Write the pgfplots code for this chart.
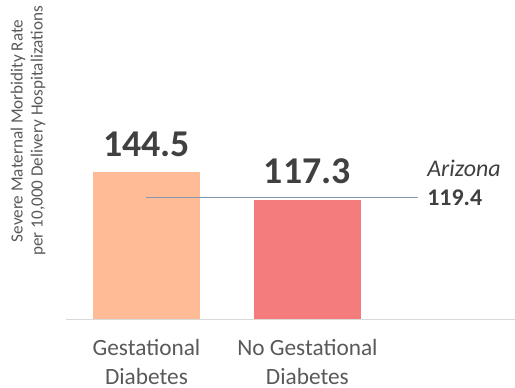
\documentclass[border=0pt]{standalone}
\usepackage{fontspec}
\setmainfont{Carlito}
\usepackage{pgfplots}
\pgfplotsset{compat=1.18}
\definecolor{peach}{HTML}{FFBB96}
\definecolor{salmon}{HTML}{F47C7C}
\definecolor{azline}{HTML}{8497B0}
\definecolor{txt}{HTML}{404040}
\definecolor{lbl}{HTML}{595959}
\definecolor{axl}{HTML}{D9D9D9}

\begin{document}
\begin{tikzpicture}
\begin{axis}[
  scale only axis,
  width=449bp, height=305bp,
  xmin=-0.5, xmax=2.29,
  ymin=0, ymax=300,
  axis x line*=bottom,
  axis y line=none,
  x axis line style={draw=axl, line width=1bp, -},
  xtick={0,1},
  xticklabels={Gestational\\[2bp]Diabetes, No Gestational\\[2bp]Diabetes},
  xticklabel style={align=center, text=lbl, yshift=-17bp,
    font=\fontsize{23.4}{27}\selectfont},
  xtick style={draw=none},
  ytick=\empty,
  clip=false,
  mybar/.style={ybar, bar width=107bp, bar shift=0pt, draw=none,
    nodes near coords, point meta=explicit symbolic,
    every node near coord/.append style={anchor=base, yshift=16bp, text=txt,
      font=\fontsize{38}{42}\selectfont\bfseries}},
]
\addplot[mybar, fill=peach] coordinates {(0,144.5) [144.5]};
\addplot[mybar, fill=salmon] coordinates {(1,117.3) [117.3]};
% Arizona reference line
\addplot[azline, line width=1.6bp, mark=none] coordinates {(0,119.4) (1.69,119.4)};

\node[anchor=base west, inner sep=0, text=txt, font=\fontsize{24}{28}\selectfont\itshape]
  at (axis cs:1.744,139.7) {Arizona};
\node[anchor=base west, inner sep=0, text=txt, font=\fontsize{24}{28}\selectfont\bfseries]
  at (axis cs:1.744,112) {119.4};

\node[rotate=90, align=center, text=lbl, font=\fontsize{17.2}{20}\selectfont]
  at ([xshift=-38bp]axis cs:-0.5,185) {Severe Maternal Morbidity Rate\\per 10,000 Delivery Hospitalizations};
\coordinate (O) at (axis cs:-0.5,0);
\end{axis}
\pgfresetboundingbox
\path[use as bounding box] ([shift={(-66bp,-69bp)}]O) rectangle ++(515bp,388bp);
\end{tikzpicture}
\end{document}
